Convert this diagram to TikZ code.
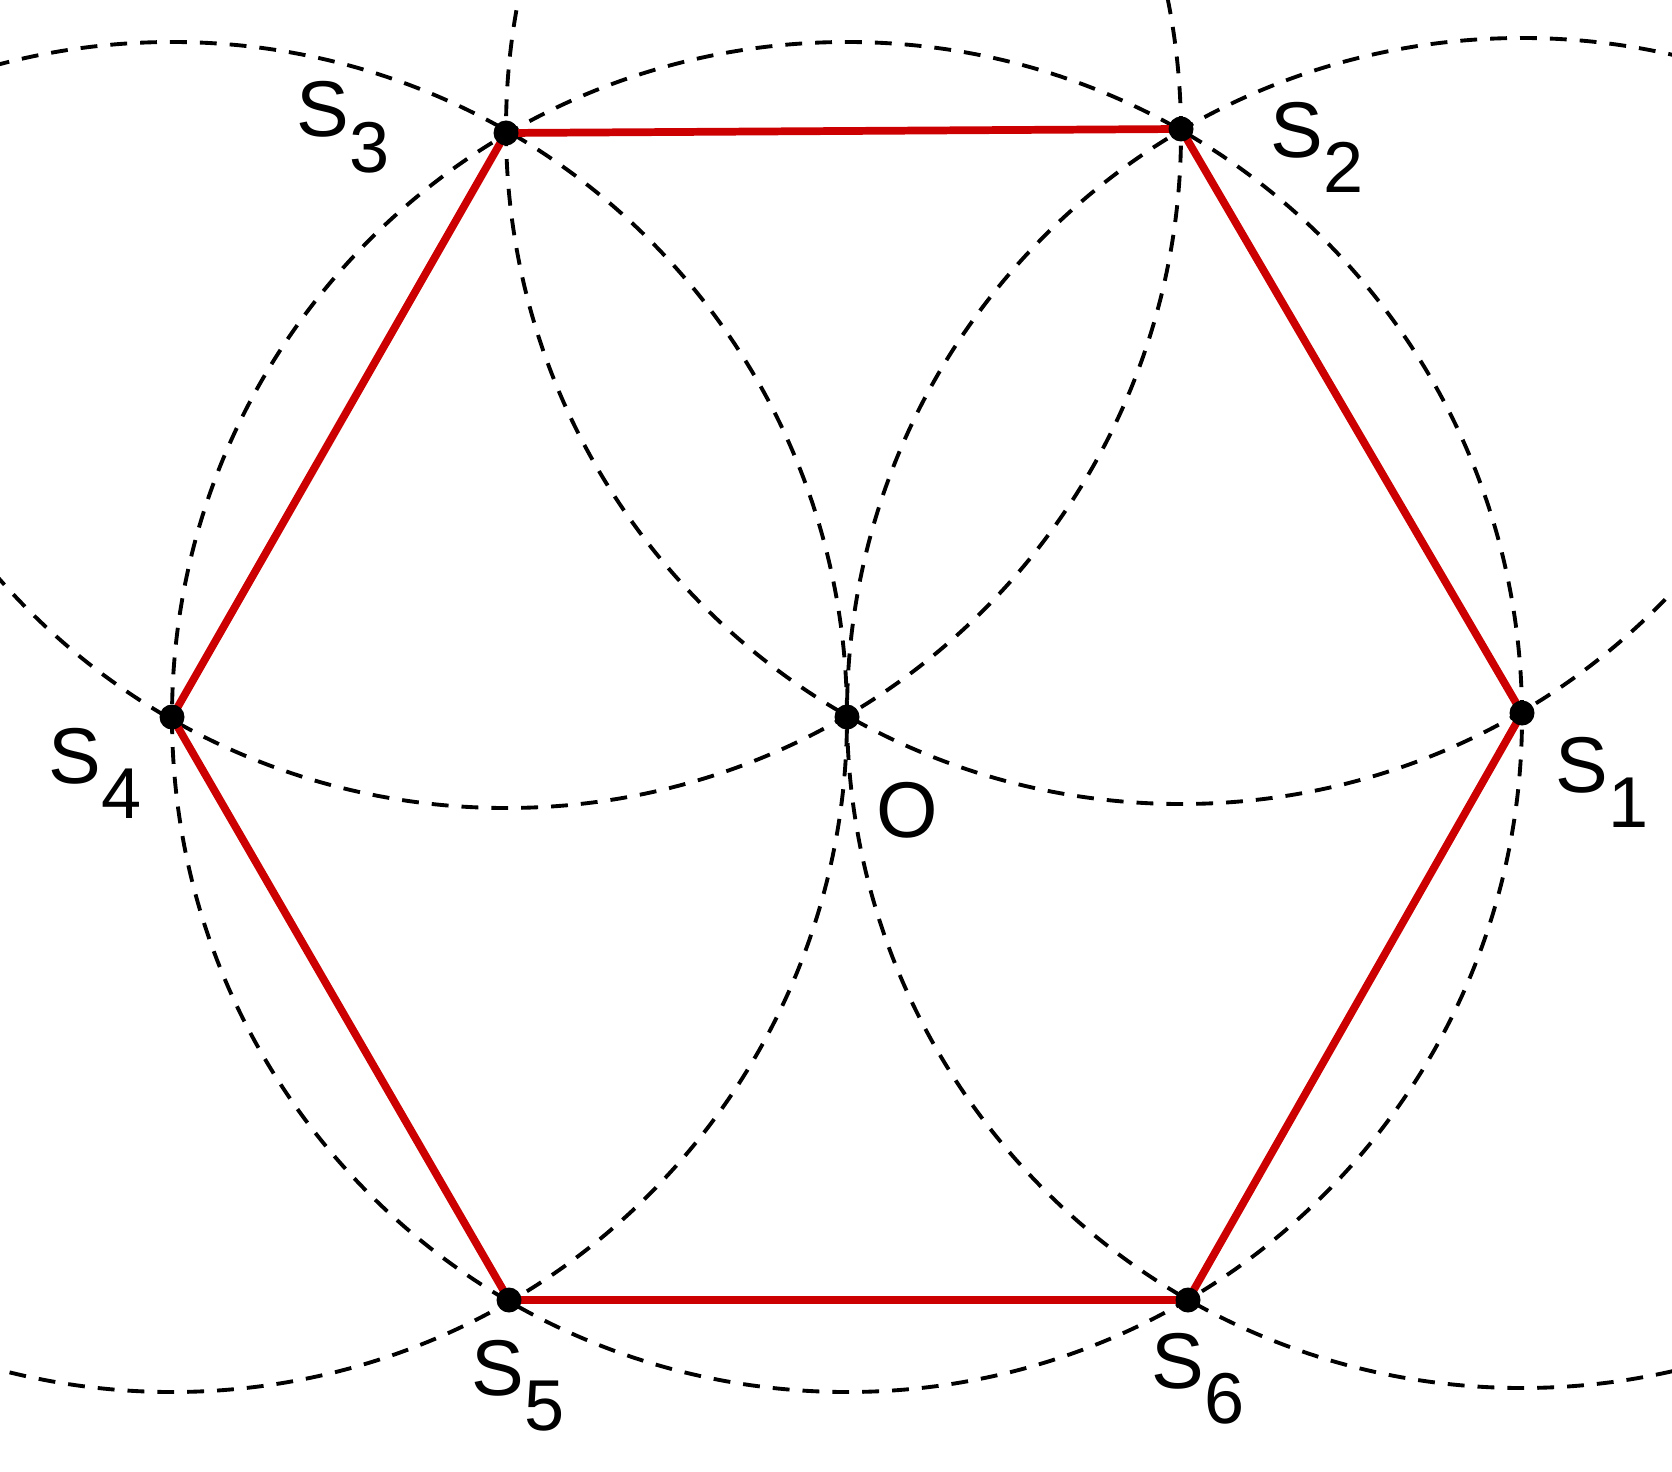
\documentclass[tikz,border=0pt]{standalone}
\usepackage{fontspec}
\setmainfont{Liberation Sans}
\definecolor{hexred}{RGB}{204,0,0}
\newcommand{\Snum}[1]{S\raisebox{-0.35cm}{\fontsize{20.5pt}{20pt}\selectfont #1}}
\tikzset{
  guide/.style={black, line width=1.1pt, dash pattern=on 4.8pt off 3.7pt},
  side/.style={hexred, line width=2.2pt},
  lbl/.style={anchor=base west, inner sep=0pt, font=\fontsize{22.5pt}{24pt}\selectfont}
}
\begin{document}
\begin{tikzpicture}[x=1cm,y=1cm]
    \useasboundingbox (0,0) rectangle (16.72,14.71);
    \clip (0,0) rectangle (16.72,14.71);
    \coordinate (O) at (8.47,7.54);
    \coordinate (S1) at (15.22,7.58);
    \coordinate (S2) at (11.81,13.42);
    \coordinate (S3) at (5.06,13.38);
    \coordinate (S4) at (1.72,7.54);
    \coordinate (S5) at (5.09,1.71);
    \coordinate (S6) at (11.88,1.71);
    \foreach \c in {O,S1,S2,S3,S4}
      \draw [guide] (\c) circle (6.75);
    \draw [side] (S1) -- (S2) -- (S3) -- (S4) -- (S5) -- (S6) -- cycle;
    \foreach \c in {O,S1,S2,S3,S4,S5,S6}
      \fill (\c) circle (0.125);
    \node (l1) [lbl] at (15.55,6.79) {\Snum{1}};
    \node (l2) [lbl] at (12.70,13.13) {\Snum{2}};
    \node (l3) [lbl] at (2.96,13.34) {\Snum{3}};
    \node (l4) [lbl] at (0.48,6.88) {\Snum{4}};
    \node (l5) [lbl] at (4.71,0.76) {\Snum{5}};
    \node (l6) [lbl] at (11.51,0.83) {\Snum{6}};
    \node (lO) [lbl] at (8.76,6.34) {O};
  \end{tikzpicture}
\end{document}
